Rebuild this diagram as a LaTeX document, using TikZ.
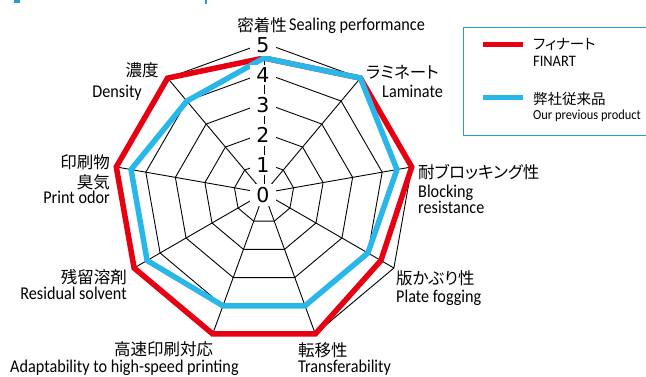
\documentclass[tikz,border=0pt]{standalone}
\usepackage{fontspec}
\setmainfont{Carlito}[FakeStretch=0.9]
\newfontfamily\jpfont{Noto Sans CJK JP}[RawFeature=+palt]
\newfontfamily\numfont{DejaVu Sans}
\usetikzlibrary{positioning}
\definecolor{finartred}{HTML}{E60012}
\definecolor{prevblue}{HTML}{29B7EA}
\definecolor{frameblue}{HTML}{2A9AD6}

\begin{document}
\begin{tikzpicture}[x=1pt, y=1pt,
    gridline/.style={draw=black, line width=0.9pt},
    level/.style={fill=white, inner xsep=6pt, inner ysep=3pt, font=\numfont\fontsize{20.5}{22}\selectfont},
    jlabel/.style={inner sep=0pt, font=\jpfont\fontsize{16.5}{18}\selectfont},
    elabel/.style={inner sep=0pt, font=\fontsize{18}{20}\selectfont},
    jlegend/.style={inner sep=0pt, font=\jpfont\fontsize{14.5}{16}\selectfont},
    elegend/.style={inner sep=0pt, font=\fontsize{13.8}{16}\selectfont},
    finart/.style={draw=finartred, line width=5.5pt},
    previous/.style={draw=prevblue, line width=5.5pt}]
    \useasboundingbox (0,0) rectangle (646,376);

    % Heading marks (cut off)
    \fill[frameblue] (14,373) rectangle (20,376);
    \fill[frameblue] (205,372) rectangle (207,376);

    % Radar grid
    \coordinate (c) at (264,183);
    \begin{scope}[shift={(264,183)}]
        \foreach \i in {0,...,8} {
            \foreach \r in {1,...,5} {
                \coordinate (g\r-\i) at (90-40*\i:\r*30);
            }
        }
        \foreach \r in {1,...,5} {
            \draw[gridline] (g\r-0) \foreach \i in {1,...,8} { -- (g\r-\i) } -- cycle;
        }
        \foreach \i in {0,...,8} {
            \draw[gridline] (c) -- (g5-\i);
        }

        % Data
        \draw[finart] (90:4.5*30) \foreach \v [count=\i] in {5,5,4.5,5,5,5,5,5} { -- (90-40*\i:\v*30) } -- cycle;
        \draw[previous] (90:4.5*30) \foreach \v [count=\i] in {5,4.5,4,4,4,4.5,4.5,4} { -- (90-40*\i:\v*30) } -- cycle;

        % Scale
        \foreach \r in {0,...,5} {
            \node[level] (lv\r) at (-1,\r*30-2) {\r};
        }
    \end{scope}

    % Axis labels
    \node[jlabel, anchor=east] (sealj) at (287,351) {密着性};
    \node[elabel, anchor=base west] (seale) at (289,345.3) {Sealing performance};
    \node[jlabel, anchor=west] (lamj) at (366,304) {ラミネート};
    \node[elabel, anchor=base west] (lame) at (382,279) {Laminate};
    \node[jlabel] (densj) at (142,306) {濃度};
    \node[elabel, anchor=base east] (dense) at (142,279) {Density};
    \node[jlabel, anchor=east] (odorj) at (110,214) {印刷物};
    \node[jlabel, anchor=east] (odorj2) at (110,193.5) {臭気};
    \node[elabel, anchor=base east] (odore) at (110,172.5) {Print odor};
    \node[jlabel, anchor=west] (blockj) at (418,204) {耐ブロッキング性};
    \node[elabel, anchor=base west] (blocke) at (418,178.5) {Blocking};
    \node[elabel, anchor=base west] (blocke2) at (418,163) {resistance};
    \node[jlabel, anchor=west] (platej) at (396,98) {版かぶり性};
    \node[elabel, anchor=base west] (platee) at (396,74) {Plate fogging};
    \node[jlabel, anchor=west] (transj) at (298,26) {転移性};
    \node[elabel, anchor=base west] (transe) at (298,3.5) {Transferability};
    \node[jlabel] (speedj) at (163.5,27) {高速印刷対応};
    \node[elabel, anchor=base west] (speede) at (10,3.5) {Adaptability to high-speed printing};
    \node[jlabel, anchor=east] (residj) at (127,99) {残留溶剤};
    \node[elabel, anchor=base east] (reside) at (127,77) {Residual solvent};

    % Legend
    \draw[frameblue, line width=1pt] (647,349) -- (463,349) -- (463,241) -- (647,241);
    \draw[finartred, line width=5pt] (483,332) -- (523,332);
    \node[jlegend, anchor=west] (finj) at (533,331.5) {フィナート};
    \node[elegend, anchor=base west, font=\fontsize{16}{18}\selectfont] (fine) at (533,309) {FINART};
    \draw[prevblue, line width=5pt] (483,278.7) -- (523,278.7);
    \node[jlegend, anchor=west] (prevj) at (533,277) {弊社従来品};
    \node[elegend, anchor=base west] (preve) at (533,257) {Our previous product};
\end{tikzpicture}
\end{document}
